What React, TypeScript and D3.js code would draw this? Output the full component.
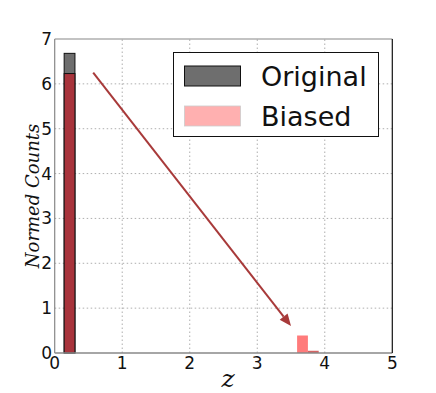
import React from "react";
import * as d3 from "d3";

const originalBins = [0.14, 0.3];
const originalCounts = [6.68];
const biasedBins = [0.14, 0.3, 3.59, 3.75, 3.91];
const biasedCounts = [6.23, 0, 0.39, 0.05];
const xTicks = [0, 1, 2, 3, 4, 5];
const yTicks = [0, 1, 2, 3, 4, 5, 6, 7];
const arrowFrom = [0.57, 6.25];
const arrowTo = [3.5, 0.6];

export default function App() {
  const W = 436, H = 393;
  const x = d3.scaleLinear().domain([0, 5]).range([54.7, 392.3]);
  const y = d3.scaleLinear().domain([0, 7]).range([353, 39]);
  const font = "DejaVu Sans, sans-serif";
  const biasedColor = (i: number) => (i === 0 ? "#a8343c" : i === 2 ? "#ff7b7b" : "#d46464");
  const ax = x(arrowFrom[0]), ay = y(arrowFrom[1]);
  const bx = x(arrowTo[0]), by = y(arrowTo[1]);
  const ang = Math.atan2(by - ay, bx - ax);
  const hl = 12, hw = 5;
  const tip = [bx, by];
  const base = [bx - hl * Math.cos(ang), by - hl * Math.sin(ang)];
  const p1 = [base[0] + hw * Math.sin(ang), base[1] - hw * Math.cos(ang)];
  const p2 = [base[0] - hw * Math.sin(ang), base[1] + hw * Math.cos(ang)];
  return (
    <svg width={W} height={H} style={{ position: "absolute", left: 0, top: 0 }}>
      <rect width={W} height={H} fill="#fff" />
      {xTicks.slice(1, -1).map((t) => (
        <line key={"gx" + t} x1={x(t)} x2={x(t)} y1={y(0)} y2={y(7)} stroke="#999" strokeDasharray="1.5,2.5" strokeWidth={0.8} />
      ))}
      {yTicks.slice(1, -1).map((t) => (
        <line key={"gy" + t} x1={x(0)} x2={x(5)} y1={y(t)} y2={y(t)} stroke="#999" strokeDasharray="1.5,2.5" strokeWidth={0.8} />
      ))}
      {originalCounts.map((c, i) => (
        <rect key={"o" + i} x={x(originalBins[i])} y={y(c)} width={x(originalBins[i + 1]) - x(originalBins[i])} height={y(0) - y(c)} fill="#6e6e6e" stroke="#111" strokeWidth={1} />
      ))}
      {biasedCounts.map((c, i) =>
        c > 0 ? (
          <rect key={"b" + i} x={x(biasedBins[i])} y={y(c)} width={x(biasedBins[i + 1]) - x(biasedBins[i])} height={y(0) - y(c)} fill={biasedColor(i)} stroke={i === 0 ? "#111" : "none"} strokeWidth={1} />
        ) : null
      )}
      <line x1={ax} y1={ay} x2={base[0]} y2={base[1]} stroke="#a83a3a" strokeWidth={2} />
      <polygon points={[tip, p1, p2].map((p) => p.join(",")).join(" ")} fill="#a83a3a" />
      <line x1={x(0)} x2={x(5)} y1={y(7)} y2={y(7)} stroke="#888" strokeWidth={1.2} />
      <line x1={x(0)} x2={x(0)} y1={y(0)} y2={y(7)} stroke="#888" strokeWidth={1.2} />
      <line x1={x(0)} x2={x(5)} y1={y(0)} y2={y(0)} stroke="#888" strokeWidth={1.5} />
      <line x1={x(5)} x2={x(5)} y1={y(0)} y2={y(7)} stroke="#111" strokeWidth={1.2} />
      {xTicks.map((t) => (
        <text key={"xt" + t} x={x(t)} y={368.5} textAnchor="middle" fontFamily={font} fontSize={17} fill="#111">{t}</text>
      ))}
      {yTicks.map((t) => (
        <text key={"yt" + t} x={52} y={y(t) + 6} textAnchor="end" fontFamily={font} fontSize={17} fill="#111">{t}</text>
      ))}
      <text transform={`translate(39,196) rotate(-90)`} textAnchor="middle" fontFamily="DejaVu Serif, serif" fontStyle="italic" fontSize={18} fill="#111">Normed Counts</text>
      <text x={228} y={387} textAnchor="middle" fontFamily="DejaVu Serif, serif" fontStyle="italic" fontSize={25} fill="#111">z</text>
      <rect x={173.5} y={52.5} width={205} height={84} fill="#fff" stroke="#111" strokeWidth={1} />
      <rect x={184.5} y={66} width={56} height={20} fill="#6e6e6e" stroke="#111" strokeWidth={1} />
      <rect x={184.5} y={106} width={56} height={20} fill="#ffb0b0" stroke="#ccc" strokeWidth={0.8} />
      <text x={261} y={86} fontFamily={font} fontSize={27} fill="#111">Original</text>
      <text x={261} y={126} fontFamily={font} fontSize={27} fill="#111">Biased</text>
    </svg>
  );
}
